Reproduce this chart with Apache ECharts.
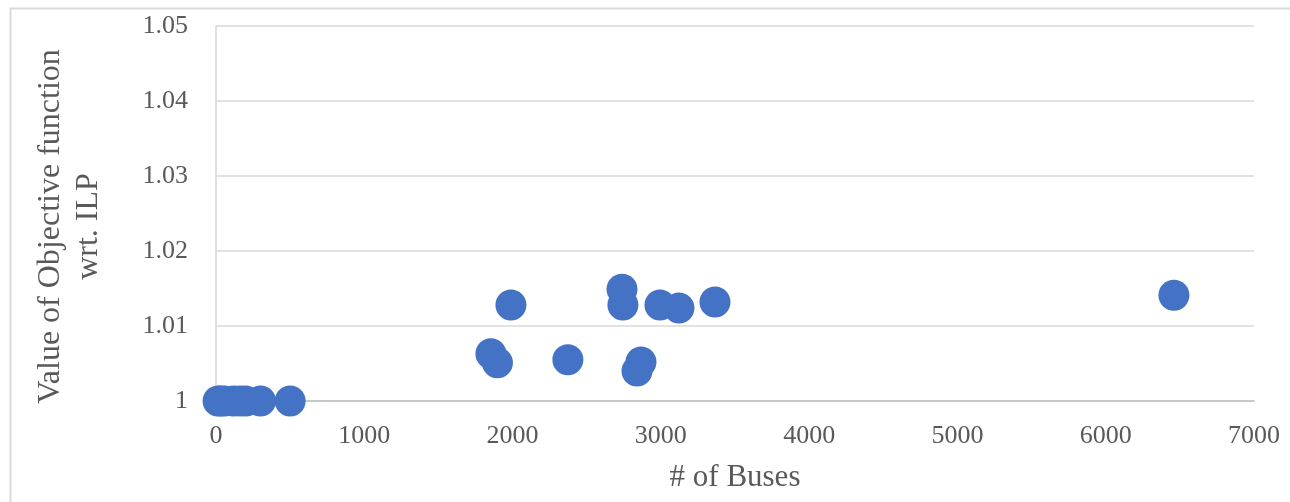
<!DOCTYPE html>
<html>
<head>
<meta charset="utf-8">
<script src="https://cdn.jsdelivr.net/npm/echarts@6/dist/echarts.min.js"></script>
<style>
  html, body { margin: 0; padding: 0; background: #fff; }
  #chart { width: 1290px; height: 502px; }
</style>
</head>
<body>
<div id="chart"></div>
<script>
// Number of buses per test network and the objective value relative to ILP
const buses = [14, 30, 57, 118, 162, 200, 300, 500,
               1854, 1898, 1989, 2373, 2738, 2744, 2866, 2839, 2994, 3122, 3365, 6460];
const objectiveRatio = [1, 1, 1, 1, 1, 1, 1, 1,
                        1.0063, 1.0051, 1.0128, 1.0055, 1.0149, 1.0128, 1.0052, 1.0040, 1.0128, 1.0124, 1.0132, 1.0141];
const xTicks = [0, 1000, 2000, 3000, 4000, 5000, 6000, 7000];
const yTicks = [1, 1.01, 1.02, 1.03, 1.04, 1.05];

const points = buses.map((b, i) => [b, objectiveRatio[i]]);
const font = '"Liberation Serif", "DejaVu Serif", serif';
const textColor = '#595959';

const chart = echarts.init(document.getElementById('chart'), null, { renderer: 'canvas' });
chart.setOption({
  animation: false,
  backgroundColor: '#ffffff',
  graphic: [{
    type: 'rect',
    shape: { x: 10.5, y: 8.5, width: 1300, height: 520 },
    style: { fill: 'none', stroke: '#d9d9d9', lineWidth: 2 },
    silent: true
  }],
  grid: { left: 216, right: 36, top: 26, bottom: 101 },
  xAxis: {
    type: 'value',
    min: xTicks[0],
    max: xTicks[xTicks.length - 1],
    interval: 1000,
    name: '# of Buses',
    nameLocation: 'middle',
    nameGap: 61,
    nameTextStyle: { fontFamily: font, fontSize: 31, color: textColor },
    axisLine: { show: true, lineStyle: { color: '#bfbfbf', width: 1.5 } },
    axisTick: { show: false },
    splitLine: { show: false },
    axisLabel: {
      fontFamily: font, fontSize: 26, color: textColor, margin: 22,
      formatter: v => String(v)
    }
  },
  yAxis: {
    type: 'value',
    min: yTicks[0],
    max: yTicks[yTicks.length - 1],
    interval: 0.01,
    name: 'Value of Objective function\nwrt. ILP',
    nameLocation: 'middle',
    nameRotate: 90,
    nameGap: 108,
    nameTextStyle: {
      fontFamily: font, fontSize: 32, color: textColor, lineHeight: 38,
      padding: [0, 26, 0, 0]
    },
    axisLine: { show: true, lineStyle: { color: '#d9d9d9', width: 1.5 } },
    axisTick: { show: false },
    splitLine: { show: true, lineStyle: { color: '#d9d9d9', width: 1.5 } },
    axisLabel: {
      fontFamily: font, fontSize: 26, color: textColor, margin: 28,
      formatter: v => (Math.abs(v - 1) < 1e-9 ? '1' : v.toFixed(2))
    }
  },
  series: [{
    type: 'scatter',
    data: points,
    symbol: 'circle',
    symbolSize: 31,
    itemStyle: { color: '#4472C4', opacity: 1 }
  }]
});
</script>
</body>
</html>
